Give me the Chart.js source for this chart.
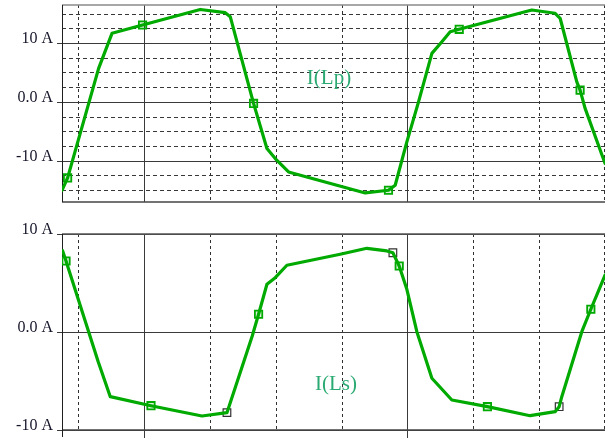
<!DOCTYPE html>
<html>
<head>
<meta charset="utf-8">
<script src="https://cdn.jsdelivr.net/npm/chart.js@4/dist/chart.umd.min.js"></script>
<style>
  html, body { margin: 0; padding: 0; background: #fff; overflow: hidden; }
  #wrap { position: relative; width: 605px; height: 438px; overflow: hidden; }
  canvas { position: absolute; left: 0; }
  #cLp { top: 0; }
  #cLs { top: 220px; }
</style>
</head>
<body>
<div id="wrap">
  <canvas id="cLp" width="605" height="212"></canvas>
  <canvas id="cLs" width="605" height="220"></canvas>
</div>
<script>
// Time axis in grid divisions; current in amperes.
const lpTime = [-0.243, -0.158, 0.313, 0.516, 0.980, 1.856, 2.235, 2.311, 2.665, 2.868,
                2.994, 3.196, 4.360, 4.713, 4.815, 4.992, 5.164, 5.372, 5.524, 5.650,
                5.787, 6.788, 6.889, 7.243, 7.319, 7.572, 7.622, 7.698, 8.001];
const lpCurrent = [-15.05, -12.95, 5.69, 11.66, 13.07, 15.72, 15.17, 14.49, -0.27, -7.94,
                   -9.65, -11.93, -15.51, -15.05, -14.20, -6.82, -0.22, 8.25, 10.23, 11.93,
                   12.34, 15.34, 15.63, 15.07, 14.22, 3.41, 1.99, -1.12, -10.50];
const lpMarkIdx = [1, 4, 8, 13, 20, 26];

const lsTime = [-0.234, -0.182, 0.308, 0.490, 1.108, 1.882, 2.261, 2.645, 2.741, 2.868,
                2.994, 3.171, 3.980, 4.385, 4.689, 4.780, 4.876, 4.992, 5.144, 5.372,
                5.675, 6.215, 6.863, 7.243, 7.304, 7.344, 7.648, 7.785, 8.002];
const lsCurrent = [8.30, 7.24, -3.06, -6.60, -7.52, -8.57, -8.23, -0.41, 1.81, 4.87,
                   5.54, 6.81, 7.93, 8.54, 8.27, 8.09, 6.73, 4.36, 0.03, -4.72,
                   -6.94, -7.62, -8.54, -8.13, -7.62, -6.60, 0.03, 2.32, 5.82];
const lsMarkIdx = [1, 4, 8, 16, 21, 27];
const lsCursorIdx = [6, 15, 24];

const ampTicks = [-10, 0, 10];
const timeMajor = [1, 5];

const TRACE = '#00aa00';
const SERIF = '"Liberation Serif", "Times New Roman", serif';

const pts = (xs, ys, idx) => (idx || xs.map((_, i) => i)).map(i => ({ x: xs[i], y: ys[i] }));

// Oscilloscope-style grid, frame and trace label
const scopeGrid = {
  id: 'scopeGrid',
  beforeDatasetsDraw(chart, _args, o) {
    const { ctx, chartArea: a, scales: { x, y } } = chart;
    const crisp = v => Math.round(v) + 0.5;
    const line = (x1, y1, x2, y2) => { ctx.beginPath(); ctx.moveTo(x1, y1); ctx.lineTo(x2, y2); ctx.stroke(); };
    ctx.save();
    ctx.lineWidth = 1;

    // minor horizontal dashed lines
    if (o.minorStep) {
      ctx.strokeStyle = '#383838';
      ctx.setLineDash([4, 3]);
      const k0 = Math.ceil(y.min / o.minorStep), k1 = Math.floor(y.max / o.minorStep);
      for (let k = k0; k <= k1; k++) {
        const v = k * o.minorStep;
        if (ampTicks.includes(v)) continue;
        const py = crisp(y.getPixelForValue(v));
        line(a.left, py, a.right, py);
      }
    }

    // vertical time divisions
    for (let t = Math.ceil(x.min); t <= x.max + 0.01; t++) {
      const px = Math.min(crisp(x.getPixelForValue(t)), a.right - 0.5);
      const major = timeMajor.includes(t);
      ctx.setLineDash(major ? [] : [3, 3]);
      ctx.strokeStyle = major ? '#3a3a3a' : '#303030';
      line(px, a.top, px, a.bottom);
      if (major && o.ticksBelow) { ctx.setLineDash([]); line(px, a.bottom, px, a.bottom + 9); }
    }

    // labelled current levels with tick marks
    ctx.setLineDash([]);
    ctx.strokeStyle = '#3a3a3a';
    ampTicks.forEach(v => {
      const py = crisp(y.getPixelForValue(v));
      line(a.left - 5, py, a.right, py);
    });

    // frame
    ctx.strokeStyle = o.topColor;
    ctx.lineWidth = 1.6;
    line(a.left, a.top, a.right, a.top);
    ctx.strokeStyle = '#444';
    line(a.left, a.bottom, a.right, a.bottom);
    ctx.lineWidth = 1;
    ctx.strokeStyle = '#1e1e1e';
    const lx = crisp(a.left);
    line(lx, a.top, lx, o.ticksBelow ? a.bottom + 7 : a.bottom);
    ctx.restore();
  },
  afterDraw(chart, _args, o) {
    const { ctx } = chart;
    ctx.save();
    ctx.font = '21px ' + SERIF;
    ctx.fillStyle = '#2aaa72';
    ctx.textAlign = 'center';
    ctx.textBaseline = 'middle';
    ctx.fillText(o.title, o.titleX, o.titleY);
    ctx.restore();
  }
};

function makeScope(canvasId, cfg) {
  const datasets = [
    {
      data: pts(cfg.time, cfg.current),
      showLine: true,
      borderColor: TRACE,
      borderWidth: 3.2,
      borderJoinStyle: 'round',
      borderCapStyle: 'round',
      pointRadius: 0,
      tension: 0
    },
    {
      data: pts(cfg.time, cfg.current, cfg.marks),
      showLine: false,
      pointStyle: 'rect',
      pointRadius: 5.2,
      borderColor: TRACE,
      borderWidth: 1.8,
      backgroundColor: 'rgba(0,170,0,0.15)'
    }
  ];
  if (cfg.cursors) {
    datasets.push({
      data: pts(cfg.time, cfg.current, cfg.cursors),
      showLine: false,
      pointStyle: 'rect',
      pointRadius: 5.4,
      borderColor: '#333',
      borderWidth: 1.2,
      backgroundColor: '#ffffff'
    });
  }
  return new Chart(document.getElementById(canvasId), {
    type: 'scatter',
    data: { datasets },
    options: {
      responsive: false,
      animation: false,
      events: [],
      layout: { padding: cfg.padding, autoPadding: false },
      plugins: {
        legend: { display: false },
        tooltip: { enabled: false },
        scopeGrid: cfg.grid
      },
      scales: {
        x: { type: 'linear', min: -0.243, max: 8.0, display: false },
        y: {
          type: 'linear',
          min: cfg.yMin,
          max: cfg.yMax,
          afterFit: s => { s.width = 62; s.paddingTop = 0; s.paddingBottom = 0; },
          afterBuildTicks: s => { s.ticks = ampTicks.map(v => ({ value: v })); },
          grid: { display: false, drawTicks: false },
          border: { display: false },
          ticks: {
            padding: 9,
            labelOffset: -4,
            color: '#15152a',
            font: { family: SERIF, size: 16, lineHeight: 1 },
            callback: v => (v === 0 ? '0.0' : String(v)) + ' A'
          }
        }
      }
    },
    plugins: [scopeGrid]
  });
}

makeScope('cLp', {
  time: lpTime, current: lpCurrent, marks: lpMarkIdx,
  yMin: -17.05, yMax: 16.48,
  padding: { top: 5, bottom: 10, left: 0, right: 0 },
  grid: { minorStep: 2.5, ticksBelow: false, topColor: '#8a8a8a', title: 'I(Lp)', titleX: 329, titleY: 78 }
});

makeScope('cLs', {
  time: lsTime, current: lsCurrent, marks: lsMarkIdx, cursors: lsCursorIdx,
  yMin: -10, yMax: 10,
  padding: { top: 14, bottom: 10, left: 0, right: 0 },
  grid: { minorStep: 0, ticksBelow: true, topColor: '#555', title: 'I(Ls)', titleX: 336, titleY: 164 }
});
</script>
</body>
</html>
